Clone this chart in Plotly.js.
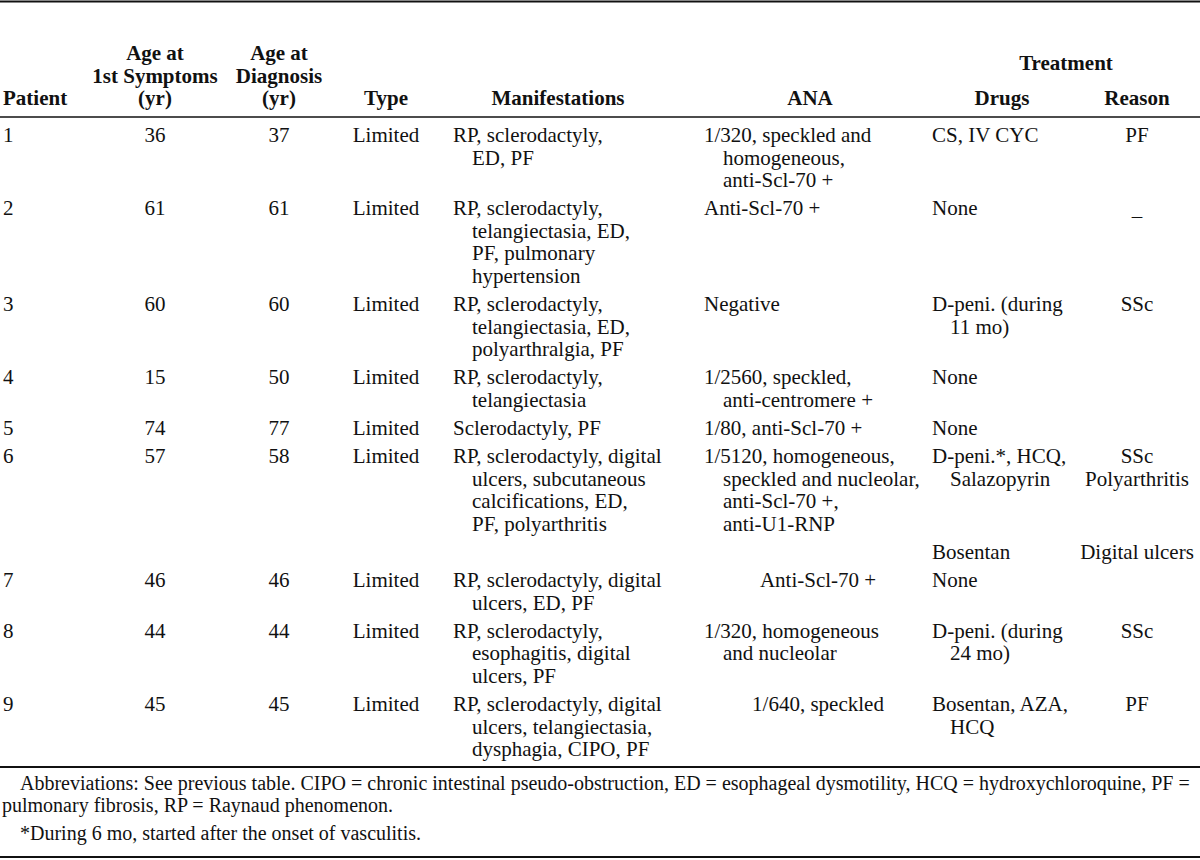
<!DOCTYPE html>
<html>
<head>
<meta charset="utf-8">
<script src="https://cdn.plot.ly/plotly-3.0.1.min.js"></script>
<style>
  body { margin: 0; background: #fff; }
  #table { width: 1200px; height: 860px; }
</style>
</head>
<body>
<div id="table"></div>
<script>
// Patient table, one entry per row (the blank row carries the second treatment of patient 6)
var patients = ['1', '2', '3', '4', '5', '6', '', '7', '8', '9'];
var ageSymptoms = ['36', '61', '60', '15', '74', '57', '', '46', '44', '45'];
var ageDiagnosis = ['37', '61', '60', '50', '77', '58', '', '46', '44', '45'];
var types = ['Limited', 'Limited', 'Limited', 'Limited', 'Limited', 'Limited', '', 'Limited', 'Limited', 'Limited'];
var manifestations = [
  'RP, sclerodactyly,<br>ED, PF',
  'RP, sclerodactyly,<br>telangiectasia, ED,<br>PF, pulmonary<br>hypertension',
  'RP, sclerodactyly,<br>telangiectasia, ED,<br>polyarthralgia, PF',
  'RP, sclerodactyly,<br>telangiectasia',
  'Sclerodactyly, PF',
  'RP, sclerodactyly, digital<br>ulcers, subcutaneous<br>calcifications, ED,<br>PF, polyarthritis',
  '',
  'RP, sclerodactyly, digital<br>ulcers, ED, PF',
  'RP, sclerodactyly,<br>esophagitis, digital<br>ulcers, PF',
  'RP, sclerodactyly, digital<br>ulcers, telangiectasia,<br>dysphagia, CIPO, PF'
];
var ana = [
  '1/320, speckled and<br>homogeneous,<br>anti-Scl-70 +',
  'Anti-Scl-70 +',
  'Negative',
  '1/2560, speckled,<br>anti-centromere +',
  '1/80, anti-Scl-70 +',
  '1/5120, homogeneous,<br>speckled and nucleolar,<br>anti-Scl-70 +,<br>anti-U1-RNP',
  '',
  'Anti-Scl-70 +',
  '1/320, homogeneous<br>and nucleolar',
  '1/640, speckled'
];
var drugs = [
  'CS, IV CYC',
  'None',
  'D-peni. (during<br>11 mo)',
  'None',
  'None',
  'D-peni.*, HCQ,<br>Salazopyrin',
  'Bosentan',
  'None',
  'D-peni. (during<br>24 mo)',
  'Bosentan, AZA,<br>HCQ'
];
var reasons = ['PF', '\u2013', 'SSc', '', '', 'SSc<br>Polyarthritis', 'Digital ulcers', '', 'SSc', 'PF'];

var headers = ['Patient', 'Age at<br>1st Symptoms<br>(yr)', 'Age at<br>Diagnosis<br>(yr)', 'Type',
  'Manifestations', 'ANA', 'Drugs', 'Reason'];
var groupHeader = 'Treatment';

var footnotes = [
  'Abbreviations: See previous table. CIPO = chronic intestinal pseudo-obstruction, ED = esophageal dysmotility, HCQ = hydroxychloroquine, PF =',
  'pulmonary fibrosis, RP = Raynaud phenomenon.',
  '*During 6 mo, started after the onset of vasculitis.'
];

// layout of the columns
var columns = [
  {cells: patients, x: 3, align: 'left'},
  {cells: ageSymptoms, x: 155, align: 'center'},
  {cells: ageDiagnosis, x: 279, align: 'center'},
  {cells: types, x: 386, align: 'center'},
  {cells: manifestations, x: 453, align: 'left', indent: 19, headX: 558},
  {cells: ana, x: 704, align: 'left', indent: 19, headX: 810, centerRows: {7: 818, 9: 818}},
  {cells: drugs, x: 932, align: 'left', indent: 18, headX: 1002},
  {cells: reasons, x: 1137, align: 'center', dy: {1: 8}}
];

var lineH = 22.5;
var rowGap = 28.2;
var firstRow = 137;
var headBottom = 100;

function lines(s) { return s === '' ? [] : s.split('<br>'); }

// vertical position of each row from the number of lines it holds
var rowY = [];
var y = firstRow;
for (var r = 0; r < patients.length; r++) {
  rowY.push(y);
  var n = 1;
  columns.forEach(function(c) { n = Math.max(n, lines(c.cells[r]).length); });
  y += (n - 1) * lineH + rowGap;
}

var body = {x: [], y: [], text: [], textposition: []};
var head = {x: [], y: [], text: [], textposition: []};

function put(tr, x, yy, t, align) {
  tr.x.push(x);
  tr.y.push(yy);
  tr.text.push(t);
  tr.textposition.push(align === 'left' ? 'middle right' : 'middle center');
}

columns.forEach(function(c, ci) {
  var hl = lines(headers[ci]);
  hl.forEach(function(t, i) {
    var hx = c.headX !== undefined ? c.headX : c.x;
    put(head, hx, headBottom - (hl.length - 1 - i) * lineH, t, c.headX !== undefined || c.align === 'center' ? 'center' : 'left');
  });
  c.cells.forEach(function(cell, r) {
    var dy = c.dy && c.dy[r] ? c.dy[r] : 0;
    lines(cell).forEach(function(t, i) {
      if (c.centerRows && c.centerRows[r]) {
        put(body, c.centerRows[r], rowY[r] + i * lineH + dy, t, 'center');
      } else {
        var x = c.x + (i > 0 && c.indent ? c.indent : 0);
        put(body, x, rowY[r] + i * lineH + dy, t, c.align);
      }
    });
  });
});
put(head, 1066, 65, groupHeader, 'center');

var notes = {x: [], y: [], text: [], textposition: []};
var noteX = [20, 2, 20];
var noteY = [785, 807, 835];
footnotes.forEach(function(t, i) { put(notes, noteX[i], noteY[i], t, 'left'); });

var serif = '"Liberation Serif", "Times New Roman", serif';
function textTrace(tr, size, bold) {
  return {
    x: tr.x, y: tr.y, text: tr.text, textposition: tr.textposition,
    mode: 'text', type: 'scatter', hoverinfo: 'skip', cliponaxis: false,
    textfont: {family: serif, size: size, color: '#111', weight: bold ? 'bold' : 'normal'}
  };
}

var data = [textTrace(body, 21, false), textTrace(head, 21, true), textTrace(notes, 20, false)];

function rule(yy, w) {
  return {type: 'line', xref: 'paper', yref: 'y', x0: 0, x1: 1, y0: yy, y1: yy,
    line: {color: '#111', width: w}};
}

var layout = {
  width: 1200, height: 860,
  margin: {l: 0, r: 0, t: 0, b: 0},
  paper_bgcolor: '#fff', plot_bgcolor: '#fff',
  showlegend: false,
  xaxis: {range: [0, 1200], visible: false, fixedrange: true},
  yaxis: {range: [860, 0], visible: false, fixedrange: true},
  shapes: [rule(1.5, 2), rule(117, 1.5), rule(767, 2), rule(857, 2)]
};

Plotly.newPlot('table', data, layout, {displayModeBar: false, staticPlot: true});
</script>
</body>
</html>
